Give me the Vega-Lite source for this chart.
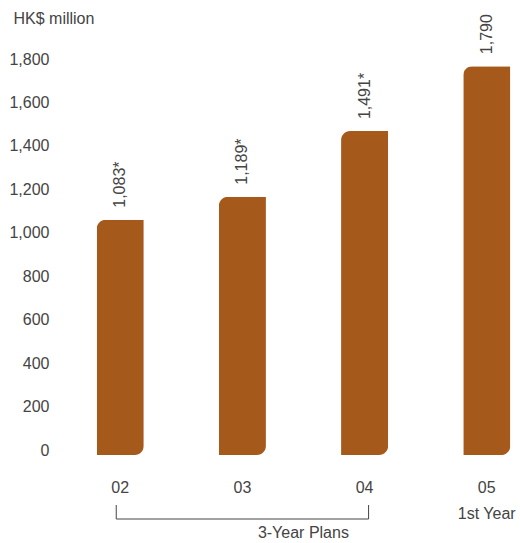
{
  "$schema": "https://vega.github.io/schema/vega-lite/v6.json",
  "autosize": "none",
  "width": 427,
  "height": 391,
  "padding": {"left": 90, "top": 64, "right": 3, "bottom": 88},
  "background": "white",
  "config": {
    "view": {"stroke": null},
    "font": "Liberation Sans",
    "axis": {"labelFont": "Liberation Sans", "labelColor": "#444", "labelFontSize": 16, "grid": false, "domain": false, "ticks": false, "tickSize": 0}
  },
  "layer": [
    {
      "data": {"values": [
        {"year": "02", "value": 1083, "label": "1,083*"},
        {"year": "03", "value": 1189, "label": "1,189*"},
        {"year": "04", "value": 1491, "label": "1,491*"},
        {"year": "05", "value": 1790, "label": "1,790"}
      ]},
      "layer": [
        {
          "mark": {"type": "bar", "color": "#A5591A", "cornerRadiusTopLeft": 9, "cornerRadiusBottomRight": 9},
          "encoding": {
            "x": {"field": "year", "type": "ordinal", "sort": null,
              "scale": {"paddingInner": 0.615, "paddingOuter": 0.055},
              "axis": {"title": null, "labelAngle": 0, "labelPadding": 24, "labelBaseline": "top", "labelLineHeight": 26,
                "labelExpr": "datum.value == '05' ? ['05', '1st Year'] : datum.value"}},
            "y": {"field": "value", "type": "quantitative",
              "scale": {"domain": [0, 1800], "nice": false, "zero": true},
              "axis": {"values": [0, 200, 400, 600, 800, 1000, 1200, 1400, 1600, 1800], "format": ",d", "labelPadding": 41, "labelOffset": -5,
                "title": "HK$ million", "titleAngle": 0, "titleAlign": "left", "titleBaseline": "middle", "titleX": -77, "titleY": -46,
                "titleFont": "Liberation Sans", "titleFontSize": 16, "titleFontWeight": "normal", "titleColor": "#444"}}
          }
        },
        {
          "mark": {"type": "text", "angle": 270, "align": "left", "baseline": "middle", "dx": 12, "fontSize": 16, "color": "#444", "font": "Liberation Sans"},
          "encoding": {
            "x": {"field": "year", "type": "ordinal", "sort": null},
            "y": {"field": "value", "type": "quantitative"},
            "text": {"field": "label"}
          }
        }
      ]
    },
    {
      "data": {"values": [{"from": "02", "to": "04", "caption": "3-Year Plans"}]},
      "layer": [
        {
          "mark": {"type": "rule", "color": "#444", "strokeWidth": 1, "yOffset": 64, "xOffset": -4, "x2Offset": 4},
          "encoding": {
            "x": {"field": "from", "type": "ordinal"},
            "x2": {"field": "to"},
            "y": {"datum": 0, "type": "quantitative"}
          }
        },
        {
          "mark": {"type": "rule", "color": "#444", "strokeWidth": 1, "yOffset": 50, "y2Offset": 64, "xOffset": -4},
          "encoding": {
            "x": {"field": "from", "type": "ordinal"},
            "y": {"datum": 0, "type": "quantitative"},
            "y2": {"datum": 0}
          }
        },
        {
          "mark": {"type": "rule", "color": "#444", "strokeWidth": 1, "yOffset": 50, "y2Offset": 64, "xOffset": 4},
          "encoding": {
            "x": {"field": "to", "type": "ordinal"},
            "y": {"datum": 0, "type": "quantitative"},
            "y2": {"datum": 0}
          }
        },
        {
          "mark": {"type": "text", "align": "center", "baseline": "middle", "dx": 61, "dy": 77.5, "fontSize": 16, "color": "#444", "font": "Liberation Sans"},
          "encoding": {
            "x": {"datum": "03", "type": "ordinal"},
            "y": {"datum": 0, "type": "quantitative"},
            "text": {"field": "caption"}
          }
        }
      ]
    }
  ]
}
